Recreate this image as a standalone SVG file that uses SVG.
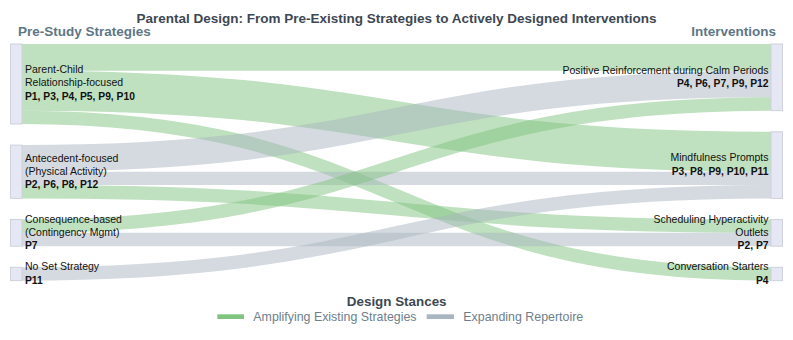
<svg xmlns="http://www.w3.org/2000/svg" width="793" height="340" viewBox="0 0 793 340">
<style>
.bg{fill:#ffffff}
.title{font-family:"Liberation Sans",Arial,sans-serif;font-weight:bold;font-size:13.5px;fill:#3d4852}
.head{font-family:"Liberation Sans",Arial,sans-serif;font-weight:bold;font-size:13.5px;fill:#5e7787}
.node rect{fill:#e6e7f5;stroke:#cfd2da;stroke-width:1}
.lbl{font-family:"Liberation Sans",Arial,sans-serif;font-size:10.5px;fill:#111111}
.lbl .b{font-weight:bold;font-size:10.3px}
.r{text-anchor:end}
.link{fill:none;stroke-opacity:0.5}
.amp{stroke:#80c480}
.exp{stroke:#a9b6bf}
.legt{font-family:"Liberation Sans",Arial,sans-serif;font-weight:bold;font-size:13.4px;fill:#3d4852}
.legl{font-family:"Liberation Sans",Arial,sans-serif;font-size:12.4px;fill:#6d7f8c}
</style>
<rect class="bg" x="0" y="0" width="793" height="340"/>
<text class="title" x="396.5" y="22.5" text-anchor="middle">Parental Design: From Pre-Existing Strategies to Actively Designed Interventions</text>
<text class="head" x="18" y="36">Pre-Study Strategies</text>
<text class="head" x="776" y="36" text-anchor="end">Interventions</text>

<g id="links">
<path class="link amp" stroke-width="26.67" d="M22,57.33 C396.5,57.33 396.5,57.33 771,57.33"/>
<path class="link amp" stroke-width="40" d="M22,90.67 C396.5,90.67 396.5,151.77 771,151.77"/>
<path class="link amp" stroke-width="13.33" d="M22,117.33 C396.5,117.33 396.5,273.97 771,273.97"/>
<path class="link exp" stroke-width="26.67" d="M22,158.43 C396.5,158.43 396.5,84 771,84"/>
<path class="link exp" stroke-width="13.33" d="M22,178.43 C396.5,178.43 396.5,178.43 771,178.43"/>
<path class="link amp" stroke-width="13.33" d="M22,191.77 C396.5,191.77 396.5,226.2 771,226.2"/>
<path class="link amp" stroke-width="13.33" d="M22,226.2 C396.5,226.2 396.5,104 771,104"/>
<path class="link exp" stroke-width="13.33" d="M22,239.53 C396.5,239.53 396.5,239.53 771,239.53"/>
<path class="link exp" stroke-width="13.33" d="M22,273.97 C396.5,273.97 396.5,191.77 771,191.77"/>
</g>

<g id="n-parent-child" class="node">
<rect x="10.5" y="44" width="11.5" height="80"/>
<text class="lbl" x="25"><tspan x="25" y="72.8">Parent-Child</tspan><tspan x="25" y="86.1">Relationship-focused</tspan><tspan class="b" x="25" y="99.6">P1, P3, P4, P5, P9, P10</tspan></text>
</g>
<g id="n-antecedent" class="node">
<rect x="10.5" y="145.1" width="11.5" height="53.33"/>
<text class="lbl" x="25"><tspan x="25" y="161.5">Antecedent-focused</tspan><tspan x="25" y="174.9">(Physical Activity)</tspan><tspan class="b" x="25" y="188.3">P2, P6, P8, P12</tspan></text>
</g>
<g id="n-consequence" class="node">
<rect x="10.5" y="219.53" width="11.5" height="26.67"/>
<text class="lbl" x="25"><tspan x="25" y="222.5">Consequence-based</tspan><tspan x="25" y="235.9">(Contingency Mgmt)</tspan><tspan class="b" x="25" y="249.3">P7</tspan></text>
</g>
<g id="n-noset" class="node">
<rect x="10.5" y="267.3" width="11.5" height="13.33"/>
<text class="lbl" x="25"><tspan x="25" y="270.2">No Set Strategy</tspan><tspan class="b" x="25" y="283.5">P11</tspan></text>
</g>

<g id="n-positive" class="node">
<rect x="771" y="44" width="11.5" height="66.67"/>
<text class="lbl r" x="768.5"><tspan x="768.5" y="73.8">Positive Reinforcement during Calm Periods</tspan><tspan class="b" x="768.5" y="87.1">P4, P6, P7, P9, P12</tspan></text>
</g>
<g id="n-mindfulness" class="node">
<rect x="771" y="131.77" width="11.5" height="66.67"/>
<text class="lbl r" x="768.5"><tspan x="768.5" y="161.3">Mindfulness Prompts</tspan><tspan class="b" x="768.5" y="174.6">P3, P8, P9, P10, P11</tspan></text>
</g>
<g id="n-scheduling" class="node">
<rect x="771" y="219.53" width="11.5" height="26.67"/>
<text class="lbl r" x="768.5"><tspan x="768.5" y="222.5">Scheduling Hyperactivity</tspan><tspan x="768.5" y="235.9">Outlets</tspan><tspan class="b" x="768.5" y="249.3">P2, P7</tspan></text>
</g>
<g id="n-conversation" class="node">
<rect x="771" y="267.3" width="11.5" height="13.33"/>
<text class="lbl r" x="768.5"><tspan x="768.5" y="270.2">Conversation Starters</tspan><tspan class="b" x="768.5" y="283.5">P4</tspan></text>
</g>

<g id="legend">
<text class="legt" x="396.7" y="305.5" text-anchor="middle">Design Stances</text>
<rect x="217.3" y="314.3" width="26.7" height="4.7" fill="#80c480"/>
<text class="legl" x="253.3" y="321">Amplifying Existing Strategies</text>
<rect x="426.7" y="314.3" width="27.3" height="4.7" fill="#a9b6bf"/>
<text class="legl" x="463.3" y="321">Expanding Repertoire</text>
</g>
</svg>
